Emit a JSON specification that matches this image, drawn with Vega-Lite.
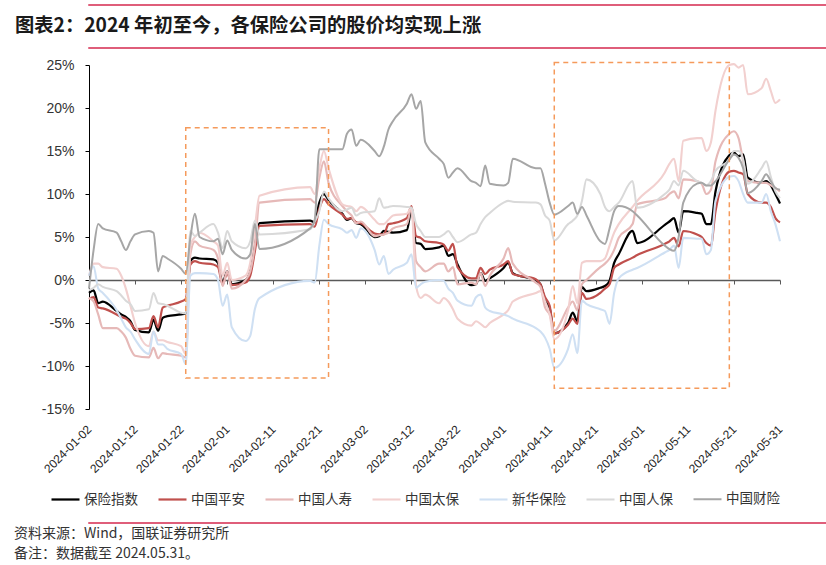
{
"$schema": "https://vega.github.io/schema/vega-lite/v6.json",
"background": "white",
"padding": {"left": 0, "top": 4, "right": 0, "bottom": 0},
"columns": 1,
"align": "none",
"spacing": 9,
"resolve": {"scale": {"color": "independent", "strokeWidth": "independent"}, "legend": {"color": "independent"}},
"config": {"view": {"stroke": null}, "font": "Liberation Sans"},
"concat": [
{"width": 826, "height": 0.01, "view": {"stroke": "#D4284E", "strokeWidth": 1.5}, "data": {"values": []}, "mark": "rule", "encoding": {}},
{"width": 826, "height": 0.01, "view": {"stroke": "#D4284E", "strokeWidth": 1.5},
 "title": {"text": "图表2：2024 年初至今，各保险公司的股价均实现上涨", "orient": "top", "anchor": "start", "frame": "group", "dx": -74, "offset": 12, "fontSize": 19.3, "fontWeight": "bold", "font": "Noto Sans CJK SC", "color": "#1a1a1a"},
 "data": {"values": []}, "mark": "rule", "encoding": {}},
{"width": 691, "height": 344,
 "layer": [
 {"data": {"values": [
{"date":"2024-01-02","保险指数":-1.5,"中国平安":-2.2,"中国人寿":-2.1,"中国太保":0.5,"新华保险":0.5,"中国人保":-1.2,"中国财险":-1.0},
{"date":"2024-01-03","保险指数":-1.2,"中国平安":-2.0,"中国人寿":-2.5,"中国太保":1.9,"新华保险":1.6,"中国人保":-0.9,"中国财险":3.5},
{"date":"2024-01-04","保险指数":-2.7,"中国平安":-3.2,"中国人寿":-4.0,"中国太保":1.9,"新华保险":-1.0,"中国人保":-0.5,"中国财险":6.5},
{"date":"2024-01-05","保险指数":-2.5,"中国平安":-3.3,"中国人寿":-5.6,"中国太保":1.5,"新华保险":-1.5,"中国人保":-0.8,"中国财险":6.0},
{"date":"2024-01-08","保险指数":-3.6,"中国平安":-4.0,"中国人寿":-5.6,"中国太保":1.3,"新华保险":-3.5,"中国人保":-1.3,"中国财险":5.5},
{"date":"2024-01-09","保险指数":-4.0,"中国平安":-4.3,"中国人寿":-6.0,"中国太保":0.5,"新华保险":-4.5,"中国人保":-1.8,"中国财险":4.5},
{"date":"2024-01-10","保险指数":-4.3,"中国平安":-4.5,"中国人寿":-6.7,"中国太保":-1.0,"新华保险":-5.5,"中国人保":-2.4,"中国财险":3.5},
{"date":"2024-01-11","保险指数":-4.8,"中国平安":-5.0,"中国人寿":-8.0,"中国太保":-3.0,"新华保险":-6.0,"中国人保":-2.8,"中国财险":4.5},
{"date":"2024-01-12","保险指数":-5.8,"中国平安":-5.7,"中国人寿":-8.8,"中国太保":-5.0,"新华保险":-6.9,"中国人保":-3.6,"中国财险":5.3},
{"date":"2024-01-15","保险指数":-6.1,"中国平安":-5.6,"中国人寿":-9.0,"中国太保":-7.7,"新华保险":-8.6,"中国人保":-3.4,"中国财险":5.7},
{"date":"2024-01-16","保险指数":-4.6,"中国平安":-4.2,"中国人寿":-7.9,"中国太保":-6.0,"新华保险":-6.0,"中国人保":-1.5,"中国财险":5.5},
{"date":"2024-01-17","保险指数":-5.9,"中国平安":-5.5,"中国人寿":-9.1,"中国太保":-7.0,"新华保险":-7.5,"中国人保":-2.7,"中国财险":1.0},
{"date":"2024-01-18","保险指数":-4.4,"中国平安":-3.2,"中国人寿":-8.5,"中国太保":-7.0,"新华保险":-7.5,"中国人保":-2.8,"中国财险":2.8},
{"date":"2024-01-19","保险指数":-4.2,"中国平安":-3.0,"中国人寿":-8.6,"中国太保":-7.2,"新华保险":-8.0,"中国人保":-3.0,"中国财险":2.5},
{"date":"2024-01-22","保险指数":-4.0,"中国平安":-2.5,"中国人寿":-8.8,"中国太保":-7.7,"新华保险":-8.6,"中国人保":-3.8,"中国财险":1.3},
{"date":"2024-01-23","保险指数":-3.9,"中国平安":-2.2,"中国人寿":-9.0,"中国太保":-8.6,"新华保险":-9.8,"中国人保":-3.9,"中国财险":0.7},
{"date":"2024-01-24","保险指数":2.2,"中国平安":1.8,"中国人寿":3.0,"中国太保":4.0,"新华保险":0.5,"中国人保":5.7,"中国财险":4.9},
{"date":"2024-01-25","保险指数":2.6,"中国平安":2.2,"中国人寿":4.5,"中国太保":5.0,"新华保险":0.8,"中国人保":5.1,"中国财险":7.7},
{"date":"2024-01-26","保险指数":2.5,"中国平安":2.0,"中国人寿":4.0,"中国太保":5.5,"新华保险":0.8,"中国人保":5.5,"中国财险":5.0},
{"date":"2024-01-29","保险指数":2.4,"中国平安":1.8,"中国人寿":3.5,"中国太保":4.5,"新华保险":0.7,"中国人保":6.5,"中国财险":4.5},
{"date":"2024-01-30","保险指数":2.0,"中国平安":1.5,"中国人寿":2.5,"中国太保":4.0,"新华保险":0.0,"中国人保":5.5,"中国财险":4.8},
{"date":"2024-01-31","保险指数":-0.3,"中国平安":-0.5,"中国人寿":-0.7,"中国太保":0.5,"新华保险":-3.0,"中国人保":3.7,"中国财险":3.0},
{"date":"2024-02-01","保险指数":1.0,"中国平安":0.8,"中国人寿":1.0,"中国太保":2.0,"新华保险":-1.7,"中国人保":5.7,"中国财险":4.6},
{"date":"2024-02-02","保险指数":-0.5,"中国平安":-0.6,"中国人寿":-1.0,"中国太保":0.0,"新华保险":-5.5,"中国人保":4.5,"中国财险":3.5},
{"date":"2024-02-05","保险指数":0.0,"中国平安":-0.3,"中国人寿":0.0,"中国太保":0.5,"新华保险":-7.1,"中国人保":3.7,"中国财险":2.5},
{"date":"2024-02-06","保险指数":1.0,"中国平安":0.5,"中国人寿":1.0,"中国太保":2.0,"新华保险":-6.5,"中国人保":4.5,"中国财险":3.0},
{"date":"2024-02-07","保险指数":4.0,"中国平安":3.3,"中国人寿":4.0,"中国太保":6.0,"新华保险":-3.4,"中国人保":6.9,"中国财险":6.5},
{"date":"2024-02-08","保险指数":6.6,"中国平安":6.3,"中国人寿":9.0,"中国太保":9.8,"新华保险":-2.1,"中国人保":5.3,"中国财险":3.6},
{"date":"2024-02-19","保险指数":6.9,"中国平安":6.5,"中国人寿":9.4,"中国太保":10.8,"新华保险":-0.1,"中国人保":5.9,"中国财险":6.0},
{"date":"2024-02-20","保险指数":6.7,"中国平安":6.2,"中国人寿":9.0,"中国太保":10.0,"新华保险":-0.3,"中国人保":6.8,"中国财险":7.0},
{"date":"2024-02-21","保险指数":9.0,"中国平安":8.3,"中国人寿":11.9,"中国太保":13.0,"新华保险":4.0,"中国人保":8.0,"中国财险":15.2},
{"date":"2024-02-22","保险指数":10.0,"中国平安":9.4,"中国人寿":13.8,"中国太保":15.0,"新华保险":7.0,"中国人保":10.3,"中国财险":15.2},
{"date":"2024-02-23","保险指数":9.3,"中国平安":8.8,"中国人寿":11.3,"中国太保":13.0,"新华保险":6.5,"中国人保":9.5,"中国财险":15.2},
{"date":"2024-02-26","保险指数":7.7,"中国平安":7.6,"中国人寿":8.6,"中国太保":8.8,"新华保险":5.9,"中国人保":8.0,"中国财险":15.2},
{"date":"2024-02-27","保险指数":7.0,"中国平安":7.1,"中国人寿":8.0,"中国太保":8.6,"新华保险":5.5,"中国人保":8.2,"中国财险":17.0},
{"date":"2024-02-28","保险指数":7.2,"中国平安":7.2,"中国人寿":7.5,"中国太保":8.5,"新华保险":5.8,"中国人保":8.4,"中国财险":17.5},
{"date":"2024-02-29","保险指数":6.6,"中国平安":6.7,"中国人寿":6.6,"中国太保":8.0,"新华保险":4.9,"中国人保":7.5,"中国财险":15.6},
{"date":"2024-03-01","保险指数":6.5,"中国平安":6.6,"中国人寿":6.8,"中国太保":8.5,"新华保险":6.0,"中国人保":7.8,"中国财险":16.3},
{"date":"2024-03-04","保险指数":5.0,"中国平安":5.4,"中国人寿":5.1,"中国太保":7.0,"新华保险":3.5,"中国人保":8.0,"中国财险":15.0},
{"date":"2024-03-05","保险指数":5.1,"中国平安":5.3,"中国人寿":5.2,"中国太保":6.5,"新华保险":1.8,"中国人保":9.5,"中国财险":14.4},
{"date":"2024-03-06","保险指数":5.7,"中国平安":5.3,"中国人寿":5.3,"中国太保":6.5,"新华保险":2.8,"中国人保":8.4,"中国财险":15.5},
{"date":"2024-03-07","保险指数":5.6,"中国平安":6.5,"中国人寿":5.5,"中国太保":7.0,"新华保险":0.7,"中国人保":8.5,"中国财险":17.5},
{"date":"2024-03-08","保险指数":5.5,"中国平安":6.6,"中国人寿":6.0,"中国太保":7.5,"新华保险":1.2,"中国人保":8.6,"中国财险":18.5},
{"date":"2024-03-11","保险指数":5.8,"中国平安":7.2,"中国人寿":6.5,"中国太保":7.7,"新华保险":2.0,"中国人保":8.5,"中国财险":20.5},
{"date":"2024-03-12","保险指数":8.2,"中国平安":8.6,"中国人寿":8.4,"中国太保":8.4,"新华保险":3.0,"中国人保":8.4,"中国财险":21.6},
{"date":"2024-03-13","保险指数":4.3,"中国平安":5.1,"中国人寿":2.2,"中国太保":-0.7,"新华保险":-0.9,"中国人保":6.5,"中国财险":19.9},
{"date":"2024-03-14","保险指数":4.2,"中国平安":4.9,"中国人寿":1.5,"中国太保":-2.1,"新华保险":-0.5,"中国人保":5.7,"中国财险":20.8},
{"date":"2024-03-15","保险指数":3.6,"中国平安":4.5,"中国人寿":1.0,"中国太保":-1.7,"新华保险":-0.2,"中国人保":5.0,"中国财险":16.0},
{"date":"2024-03-18","保险指数":3.8,"中国平安":4.3,"中国人寿":1.9,"中国太保":-2.7,"新华保险":0.0,"中国人保":5.0,"中国财险":14.1},
{"date":"2024-03-19","保险指数":4.0,"中国平安":4.1,"中国人寿":1.9,"中国太保":-2.1,"新华保险":-0.1,"中国人保":5.3,"中国财险":13.5},
{"date":"2024-03-20","保险指数":2.8,"中国平安":3.4,"中国人寿":1.0,"中国太保":-2.5,"新华保险":-1.0,"中国人保":5.7,"中国财险":11.9},
{"date":"2024-03-21","保险指数":3.0,"中国平安":4.2,"中国人寿":1.5,"中国太保":-3.4,"新华保险":-1.5,"中国人保":5.0,"中国财险":12.5},
{"date":"2024-03-22","保险指数":1.8,"中国平安":1.5,"中国人寿":-0.5,"中国太保":-4.5,"新华保险":-2.4,"中国人保":4.4,"中国财险":13.0},
{"date":"2024-03-25","保险指数":-0.6,"中国平安":0.2,"中国人寿":-0.3,"中国太保":-5.3,"新华保险":-3.0,"中国人保":5.3,"中国财险":11.5},
{"date":"2024-03-26","保险指数":-0.5,"中国平安":0.2,"中国人寿":-0.5,"中国太保":-4.8,"新华保险":-2.0,"中国人保":5.5,"中国财险":11.3},
{"date":"2024-03-27","保险指数":0.8,"中国平安":1.4,"中国人寿":0.8,"中国太保":-5.1,"新华保险":-1.7,"中国人保":6.5,"中国财险":10.9},
{"date":"2024-03-28","保险指数":-0.1,"中国平安":0.7,"中国人寿":-0.7,"中国太保":-5.5,"新华保险":-3.2,"中国人保":7.3,"中国财险":13.3},
{"date":"2024-03-29","保险指数":0.2,"中国平安":1.2,"中国人寿":0.5,"中国太保":-5.0,"新华保险":-3.6,"中国人保":7.8,"中国财险":11.2},
{"date":"2024-04-01","保险指数":1.4,"中国平安":1.8,"中国人寿":2.5,"中国太保":-4.0,"新华保险":-4.0,"中国人保":9.0,"中国财险":11.0},
{"date":"2024-04-02","保险指数":2.0,"中国平安":2.2,"中国人寿":3.7,"中国太保":-3.5,"新华保险":-4.2,"中国人保":9.2,"中国财险":11.3},
{"date":"2024-04-03","保险指数":0.8,"中国平安":0.7,"中国人寿":1.9,"中国太保":-2.5,"新华保险":-4.5,"中国人保":9.1,"中国财险":14.1},
{"date":"2024-04-08","保险指数":-0.1,"中国平安":0.1,"中国人寿":-0.3,"中国太保":-1.5,"新华保险":-5.6,"中国人保":9.0,"中国财险":13.0},
{"date":"2024-04-09","保险指数":-0.5,"中国平安":-0.5,"中国人寿":-0.8,"中国太保":-1.3,"新华保险":-6.0,"中国人保":8.8,"中国财险":13.0},
{"date":"2024-04-10","保险指数":-2.4,"中国平安":-2.0,"中国人寿":-3.2,"中国太保":-2.5,"新华保险":-6.7,"中国人保":7.5,"中国财险":11.2},
{"date":"2024-04-11","保险指数":-3.3,"中国平安":-3.0,"中国人寿":-4.0,"中国太保":-4.0,"新华保险":-8.0,"中国人保":6.9,"中国财险":9.0},
{"date":"2024-04-12","保险指数":-6.2,"中国平安":-6.2,"中国人寿":-5.9,"中国太保":-6.9,"新华保险":-10.2,"中国人保":4.6,"中国财险":7.6},
{"date":"2024-04-15","保险指数":-5.0,"中国平安":-5.2,"中国人寿":-3.2,"中国太保":-3.5,"新华保险":-8.0,"中国人保":6.5,"中国财险":8.6},
{"date":"2024-04-16","保险指数":-3.8,"中国平安":-4.5,"中国人寿":-2.5,"中国太保":-0.7,"新华保险":-6.3,"中国人保":6.9,"中国财险":9.0},
{"date":"2024-04-17","保险指数":-4.8,"中国平安":-5.1,"中国人寿":-3.5,"中国太保":-2.7,"新华保险":-8.5,"中国人保":7.5,"中国财险":7.7},
{"date":"2024-04-18","保险指数":-0.8,"中国平安":-1.5,"中国人寿":-0.5,"中国太保":2.0,"新华保险":-2.4,"中国人保":9.2,"中国财险":8.5},
{"date":"2024-04-19","保险指数":-1.3,"中国平安":-2.2,"中国人寿":0.0,"中国太保":2.2,"新华保险":-2.8,"中国人保":11.7,"中国财险":7.5},
{"date":"2024-04-22","保险指数":-0.9,"中国平安":-1.5,"中国人寿":1.5,"中国太保":2.2,"新华保险":-3.4,"中国人保":10.0,"中国财险":4.5},
{"date":"2024-04-23","保险指数":-0.7,"中国平安":-1.0,"中国人寿":1.9,"中国太保":2.5,"新华保险":-3.6,"中国人保":8.5,"中国财险":4.2},
{"date":"2024-04-24","保险指数":-0.1,"中国平安":-0.5,"中国人寿":2.5,"中国太保":4.0,"新华保险":-5.1,"中国人保":8.0,"中国财险":6.0},
{"date":"2024-04-25","保险指数":2.0,"中国平安":1.4,"中国人寿":3.5,"中国太保":5.5,"新华保险":-1.5,"中国人保":8.5,"中国财险":8.0},
{"date":"2024-04-26","保险指数":3.0,"中国平安":1.8,"中国人寿":4.9,"中国太保":6.5,"新华保险":0.2,"中国人保":9.0,"中国财险":8.6},
{"date":"2024-04-29","保险指数":5.7,"中国平安":2.6,"中国人寿":6.5,"中国太保":8.5,"新华保险":1.2,"中国人保":11.5,"中国财险":8.0},
{"date":"2024-04-30","保险指数":4.3,"中国平安":2.9,"中国人寿":8.8,"中国太保":9.2,"新华保险":1.4,"中国人保":8.4,"中国财险":7.5},
{"date":"2024-05-06","保险指数":6.4,"中国平安":4.2,"中国人寿":9.5,"中国太保":12.5,"新华保险":3.2,"中国人保":10.0,"中国财险":4.0},
{"date":"2024-05-07","保险指数":6.8,"中国平安":4.5,"中国人寿":10.0,"中国太保":13.5,"新华保险":3.5,"中国人保":10.5,"中国财险":3.6},
{"date":"2024-05-08","保险指数":7.2,"中国平安":4.9,"中国人寿":10.3,"中国太保":14.1,"新华保险":4.0,"中国人保":11.5,"中国财险":3.4},
{"date":"2024-05-09","保险指数":5.5,"中国平安":3.9,"中国人寿":9.5,"中国太保":11.5,"新华保险":1.4,"中国人保":11.0,"中国财险":5.0},
{"date":"2024-05-10","保险指数":8.0,"中国平安":5.7,"中国人寿":11.7,"中国太保":16.2,"新华保险":4.9,"中国人保":12.7,"中国财险":9.0},
{"date":"2024-05-13","保险指数":7.8,"中国平安":5.3,"中国人寿":11.5,"中国太保":16.5,"新华保险":4.8,"中国人保":11.5,"中国财险":11.2},
{"date":"2024-05-14","保险指数":7.7,"中国平安":5.0,"中国人寿":11.2,"中国太保":16.5,"新华保险":4.8,"中国人保":11.3,"中国财险":11.3},
{"date":"2024-05-15","保险指数":6.5,"中国平安":4.3,"中国人寿":10.0,"中国太保":15.0,"新华保险":3.0,"中国人保":11.0,"中国财险":11.0},
{"date":"2024-05-16","保险指数":6.5,"中国平安":4.0,"中国人寿":10.5,"中国太保":16.0,"新华保险":3.5,"中国人保":11.5,"中国财险":11.0},
{"date":"2024-05-17","保险指数":10.3,"中国平安":8.0,"中国人寿":13.8,"中国太保":19.7,"新华保险":9.2,"中国人保":12.7,"中国财险":11.5},
{"date":"2024-05-20","保险指数":14.5,"中国平安":12.6,"中国人寿":17.0,"中国太保":25.0,"新华保险":12.0,"中国人保":14.0,"中国财险":14.0},
{"date":"2024-05-21","保险指数":14.8,"中国平安":12.7,"中国人寿":17.3,"中国太保":25.1,"新华保险":12.1,"中国人保":15.0,"中国财险":14.6},
{"date":"2024-05-22","保险指数":14.4,"中国平安":12.5,"中国人寿":16.5,"中国太保":24.7,"新华保险":11.5,"中国人保":15.0,"中国财险":14.2},
{"date":"2024-05-23","保险指数":14.6,"中国平安":12.3,"中国人寿":13.8,"中国太保":25.0,"新华保险":10.0,"中国人保":14.0,"中国财险":13.0},
{"date":"2024-05-24","保险指数":11.9,"中国平安":10.0,"中国人寿":11.5,"中国太保":21.6,"新华保险":9.0,"中国人保":11.2,"中国财险":10.1},
{"date":"2024-05-27","保险指数":11.3,"中国平安":9.0,"中国人寿":11.3,"中国太保":22.3,"新华保险":9.0,"中国人保":13.0,"中国财险":11.5},
{"date":"2024-05-28","保险指数":11.5,"中国平安":9.0,"中国人寿":11.3,"中国太保":23.4,"新华保险":10.0,"中国人保":13.8,"中国财险":12.3},
{"date":"2024-05-29","保险指数":11.0,"中国平安":8.5,"中国人寿":11.0,"中国太保":22.0,"新华保险":8.0,"中国人保":12.0,"中国财险":11.5},
{"date":"2024-05-30","保险指数":10.0,"中国平安":7.2,"中国人寿":10.7,"中国太保":20.6,"新华保险":6.5,"中国人保":10.3,"中国财险":10.7},
{"date":"2024-05-31","保险指数":8.9,"中国平安":6.7,"中国人寿":10.3,"中国太保":21.0,"新华保险":4.5,"中国人保":9.5,"中国财险":10.5}
 ]},
  "transform": [{"fold": ["保险指数","中国平安","中国人寿","中国太保","新华保险","中国人保","中国财险"], "as": ["series","value"]}],
  "mark": {"type": "line", "interpolate": "monotone"},
  "encoding": {
   "x": {"field": "date", "type": "temporal",
     "scale": {"type": "utc", "domain": [{"year":2024,"month":1,"date":2,"utc":true},{"year":2024,"month":5,"date":31,"utc":true}]},
     "axis": {"values": [{"year":2024,"month":1,"date":2,"utc":true},{"year":2024,"month":1,"date":12,"utc":true},{"year":2024,"month":1,"date":22,"utc":true},{"year":2024,"month":2,"date":1,"utc":true},{"year":2024,"month":2,"date":11,"utc":true},{"year":2024,"month":2,"date":21,"utc":true},{"year":2024,"month":3,"date":2,"utc":true},{"year":2024,"month":3,"date":12,"utc":true},{"year":2024,"month":3,"date":22,"utc":true},{"year":2024,"month":4,"date":1,"utc":true},{"year":2024,"month":4,"date":11,"utc":true},{"year":2024,"month":4,"date":21,"utc":true},{"year":2024,"month":5,"date":1,"utc":true},{"year":2024,"month":5,"date":11,"utc":true},{"year":2024,"month":5,"date":21,"utc":true},{"year":2024,"month":5,"date":31,"utc":true}],
       "labelExpr": "utcFormat(datum.value, '%Y-%m-%d')", "labelAngle": -45, "labelAlign": "right", "labelBaseline": "middle",
       "labelFontSize": 12, "labelFont": "Liberation Sans", "labelColor": "#262626", "labelPadding": 18, "labelOverlap": false, "labelFlush": false,
       "domain": false, "ticks": false, "grid": false, "title": null}},
   "y": {"field": "value", "type": "quantitative",
     "scale": {"domain": [-15, 25], "nice": false, "zero": false},
     "axis": {"values": [-15,-10,-5,0,5,10,15,20,25], "labelExpr": "datum.value + '%'", "labelFontSize": 14, "labelFont": "Liberation Sans", "labelColor": "#333333",
       "domainColor": "#000000", "domainWidth": 1, "tickColor": "#000000", "tickSize": 4, "labelPadding": 11, "grid": false, "title": null, "minExtent": 89}},
   "color": {"field": "series", "type": "nominal",
     "scale": {"domain": ["保险指数","中国平安","中国人寿","中国太保","新华保险","中国人保","中国财险"], "range": ["#000000","#C0504D","#E6B9B8","#F2D0CF","#CFE0F3","#D9D9D9","#A6A6A6"]},
     "legend": {"orient": "none", "legendX": -46, "legendY": 412, "padding": 7, "direction": "horizontal", "columns": 7, "title": null,
       "symbolType": "stroke", "symbolSize": 784, "symbolStrokeWidth": 3, "labelFont": "Noto Sans CJK SC", "labelFontSize": 13.5, "labelColor": "#333333", "labelOffset": 3, "columnPadding": 16}},
   "strokeWidth": {"field": "series", "type": "nominal",
     "scale": {"domain": ["保险指数","中国平安","中国人寿","中国太保","新华保险","中国人保","中国财险"], "range": [2.25,2,2,2,2,2,2]}, "legend": null}
  }},
 {"data": {"values": [
   {"x1": "2024-01-23", "x2": "2024-02-23", "y1": -11.4, "y2": 17.7},
   {"x1": "2024-04-12", "x2": "2024-05-20", "y1": -12.6, "y2": 25.3}
  ]},
  "mark": {"type": "rect", "filled": false, "stroke": "#F59A5B", "strokeWidth": 1.5, "strokeDash": [5, 4]},
  "encoding": {
   "x": {"field": "x1", "type": "temporal",
     "scale": {"type": "utc", "domain": [{"year":2024,"month":1,"date":2,"utc":true},{"year":2024,"month":5,"date":31,"utc":true}]},
     "axis": {"orient": "bottom", "offset": -129, "labels": false, "grid": false, "title": null,
       "values": [{"year":2024,"month":1,"date":2,"utc":true},{"year":2024,"month":1,"date":12,"utc":true},{"year":2024,"month":1,"date":22,"utc":true},{"year":2024,"month":2,"date":1,"utc":true},{"year":2024,"month":2,"date":11,"utc":true},{"year":2024,"month":2,"date":21,"utc":true},{"year":2024,"month":3,"date":2,"utc":true},{"year":2024,"month":3,"date":12,"utc":true},{"year":2024,"month":3,"date":22,"utc":true},{"year":2024,"month":4,"date":1,"utc":true},{"year":2024,"month":4,"date":11,"utc":true},{"year":2024,"month":4,"date":21,"utc":true},{"year":2024,"month":5,"date":1,"utc":true},{"year":2024,"month":5,"date":11,"utc":true},{"year":2024,"month":5,"date":21,"utc":true},{"year":2024,"month":5,"date":31,"utc":true}],
       "domainColor": "#595959", "domainWidth": 1.5, "tickColor": "#595959", "tickSize": 4, "tickWidth": 1}},
   "x2": {"field": "x2"},
   "y": {"field": "y1", "type": "quantitative"},
   "y2": {"field": "y2"}
  }}
 ],
 "resolve": {"axis": {"x": "independent"}}
},
{"width": 826, "height": 0.01, "view": {"stroke": "#D4284E", "strokeWidth": 1.5},
 "title": {"text": ["资料来源：Wind，国联证券研究所", "备注：数据截至 2024.05.31。"], "orient": "bottom", "anchor": "start", "frame": "group", "dx": -75, "offset": 4, "fontSize": 14, "fontWeight": "normal", "font": "Noto Sans CJK SC", "color": "#333333", "lineHeight": 20},
 "data": {"values": []}, "mark": "rule", "encoding": {}}
]
}
